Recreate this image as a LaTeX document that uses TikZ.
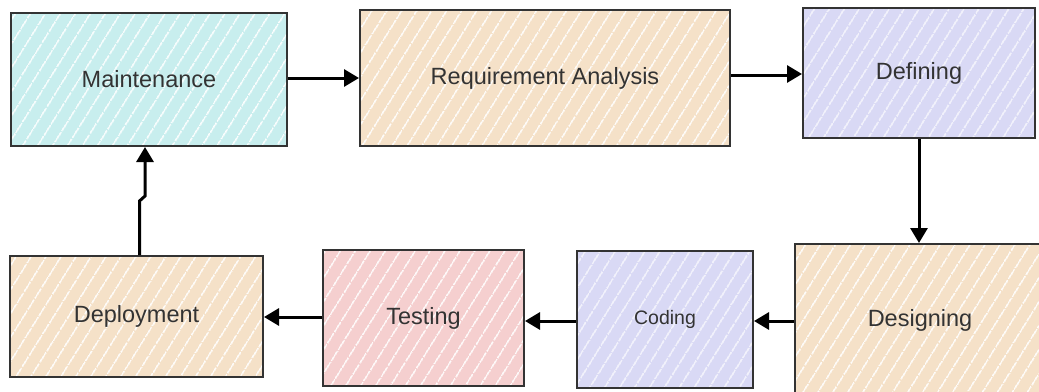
\documentclass[tikz,border=0pt]{standalone}
\usepackage{fontspec}
\setmainfont{Liberation Sans}
\usetikzlibrary{arrows.meta,patterns.meta}
\definecolor{cyanfill}{HTML}{C8EEEE}
\definecolor{peachfill}{HTML}{F5E1C8}
\definecolor{lavfill}{HTML}{D9D9F5}
\definecolor{pinkfill}{HTML}{F5CFCF}
\definecolor{edge}{HTML}{333333}
\definecolor{txt}{HTML}{333333}
\tikzset{
  box/.style={draw=edge, line width=2pt, inner sep=0pt, text=txt,
    font=\fontsize{23.5}{27}\selectfont,
    preaction={fill=#1},
    preaction={pattern={Lines[angle=58,distance=13pt,line width=1.3pt]}, pattern color=white}},
  flow/.style={line width=3pt, -{Triangle[length=15pt,width=17pt]}}
}
\begin{document}
\begin{tikzpicture}[x=1pt,y=-1pt]
\useasboundingbox (0,0) rectangle (1039,391);
\begin{scope}
\clip (0,0) rectangle (1039,391);
\node[box=cyanfill, minimum width=276pt, minimum height=133pt] (mai) at (149,79.5) {Maintenance};
\node[box=peachfill, minimum width=370pt, minimum height=136pt] (req) at (545,78) {Requirement Analysis};
\node[box=lavfill, minimum width=232pt, minimum height=130pt] (def) at (919,73) {Defining};
\node[box=peachfill, minimum width=250pt, minimum height=152pt] (des) at (920,320) {Designing};
\node[box=lavfill, minimum width=176pt, minimum height=137pt, font=\fontsize{19.5}{23}\selectfont] (cod) at (665,319.5) {Coding};
\node[box=pinkfill, minimum width=201pt, minimum height=136pt] (tes) at (423.5,318) {Testing};
\node[box=peachfill, minimum width=253pt, minimum height=121pt] (dep) at (136.5,316.5) {Deployment};
\end{scope}
\draw[flow] (mai.east |- 0,78) -- (req.west |- 0,78);
\draw[flow] (req.east |- 0,75) -- (790,75) -- (790,74) -- (def.west |- 0,74);
\draw[flow] (def.south) -- (des.north -| def.south);
\draw[flow] (des.west |- 0,321) -- (cod.east |- 0,321);
\draw[flow] (cod.west |- 0,321) -- (tes.east |- 0,321);
\draw[flow] (tes.west |- 0,317) -- (dep.east |- 0,317);
\coordinate (jogA) at (139.5,201);
\coordinate (jogB) at (145,196);
\draw[flow] (dep.north -| jogA) -- (jogA) -- (jogB) -- (mai.south -| jogB);
\end{tikzpicture}
\end{document}
